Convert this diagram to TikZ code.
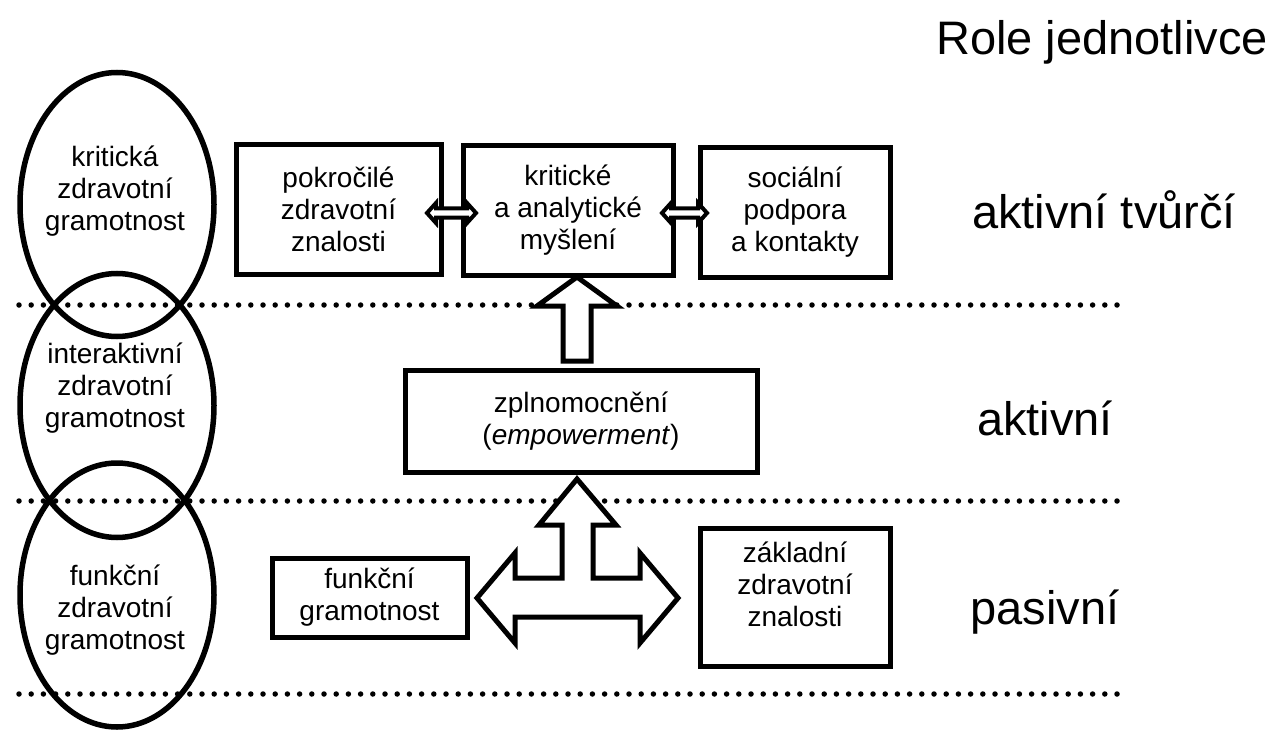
\documentclass[tikz,border=0pt]{standalone}
\usepackage{fontspec}
\setmainfont{Liberation Sans}
\usetikzlibrary{shapes.geometric}
\begin{document}
\begin{tikzpicture}[x=1pt,y=-1pt,
  box/.style={draw, line width=5pt, fill=white, inner sep=0pt},
  txt/.style={font=\fontsize{28}{32}\selectfont, align=center, inner sep=0pt},
  big/.style={font=\fontsize{47}{52}\selectfont, inner sep=0pt},
  blockarrow/.style={draw, line width=5pt, fill=white, line join=miter},
  thinarrow/.style={draw, line width=4pt, fill=white, line join=miter},
  dotline/.style={line width=5.5pt, line cap=round, dash pattern=on 0pt off 12.2pt},
  ring/.style={draw, line width=5.5pt, ellipse, minimum width=194pt, minimum height=264pt, inner sep=0pt}]
\useasboundingbox (0,0) rectangle (1284,730);
\fill[white] (0,0) rectangle (1284,730);
% dotted level lines
\coordinate (d1a) at (19,305); \coordinate (d1b) at (1127,305);
\coordinate (d2a) at (19,501); \coordinate (d2b) at (1127,501);
\coordinate (d3a) at (19,694); \coordinate (d3b) at (1127,694);
\draw[dotline] (d1a) -- (d1b);
\draw[dotline] (d2a) -- (d2b);
\draw[dotline] (d3a) -- (d3b);
% ellipses
\node[ring] (e1) at (117,204.5) {};
\node[ring] (e2) at (117,405.5) {};
\node[ring] (e3) at (117,595) {};
\node[txt] (t1) at (115,191) {kritická\\zdravotní\\gramotnost};
\node[txt] (t2) at (115,388) {interaktivní\\zdravotní\\gramotnost};
\node[txt] (t3) at (115,610) {funkční\\zdravotní\\gramotnost};
% boxes
\node[box, minimum width=205pt, minimum height=129pt] (b1) at (338.5,209.5) {};
\node[box, minimum width=210pt, minimum height=129pt] (b2) at (568,210.5) {};
\node[box, minimum width=190pt, minimum height=129pt] (b3) at (795,212.5) {};
\node[box, minimum width=352pt, minimum height=102pt] (zpl) at (581,421) {};
\node[box, minimum width=195pt, minimum height=79pt] (fg) at (369.5,597.5) {};
\node[box, minimum width=190pt, minimum height=138pt] (zz) at (795,597) {};
\node[txt] at (b1) {pokročilé\\zdravotní\\znalosti};
\node[txt] at (b2) {kritické\\a analytické\\myšlení};
\node[txt] at (b3) {sociální\\podpora\\a kontakty};
\node[txt] at (zpl) {zplnomocnění\\(\textit{empowerment})};
\node[txt] at (fg) {funkční\\gramotnost};
\node[txt] at (795,584) {základní\\zdravotní\\znalosti};
% small double arrows
\draw[thinarrow] (427,213) -- (436,203) -- (436,208.3) -- (467,208.3) -- (467,203) -- (476,213)
  -- (467,223) -- (467,217.7) -- (436,217.7) -- (436,223) -- cycle;
\draw[thinarrow] (662,213) -- (671,203) -- (671,208.3) -- (698,208.3) -- (698,203) -- (707,213)
  -- (698,223) -- (698,217.7) -- (671,217.7) -- (671,223) -- cycle;
% up arrow zpl -> b2
\draw[blockarrow] (563,361) -- (563,306) -- (537,306) -- (577,277) -- (617,306) -- (591,306) -- (591,361) -- cycle;
% T arrow
\draw[blockarrow] (577,479) -- (616,525) -- (593,525) -- (593,578) -- (640,578) -- (640,553) -- (678,598)
  -- (640,643) -- (640,617) -- (515,617) -- (515,643) -- (477,598) -- (515,553) -- (515,578)
  -- (562,578) -- (562,525) -- (539,525) -- cycle;
% right labels
\node[big] (r0) at (1102,42) {Role jednotlivce};
\node[big] (r1) at (1104,210) {aktivní tvůrčí};
\node[big] (r2) at (1045,418) {aktivní};
\node[big] (r3) at (1045,612) {pasivní};
\end{tikzpicture}
\end{document}
